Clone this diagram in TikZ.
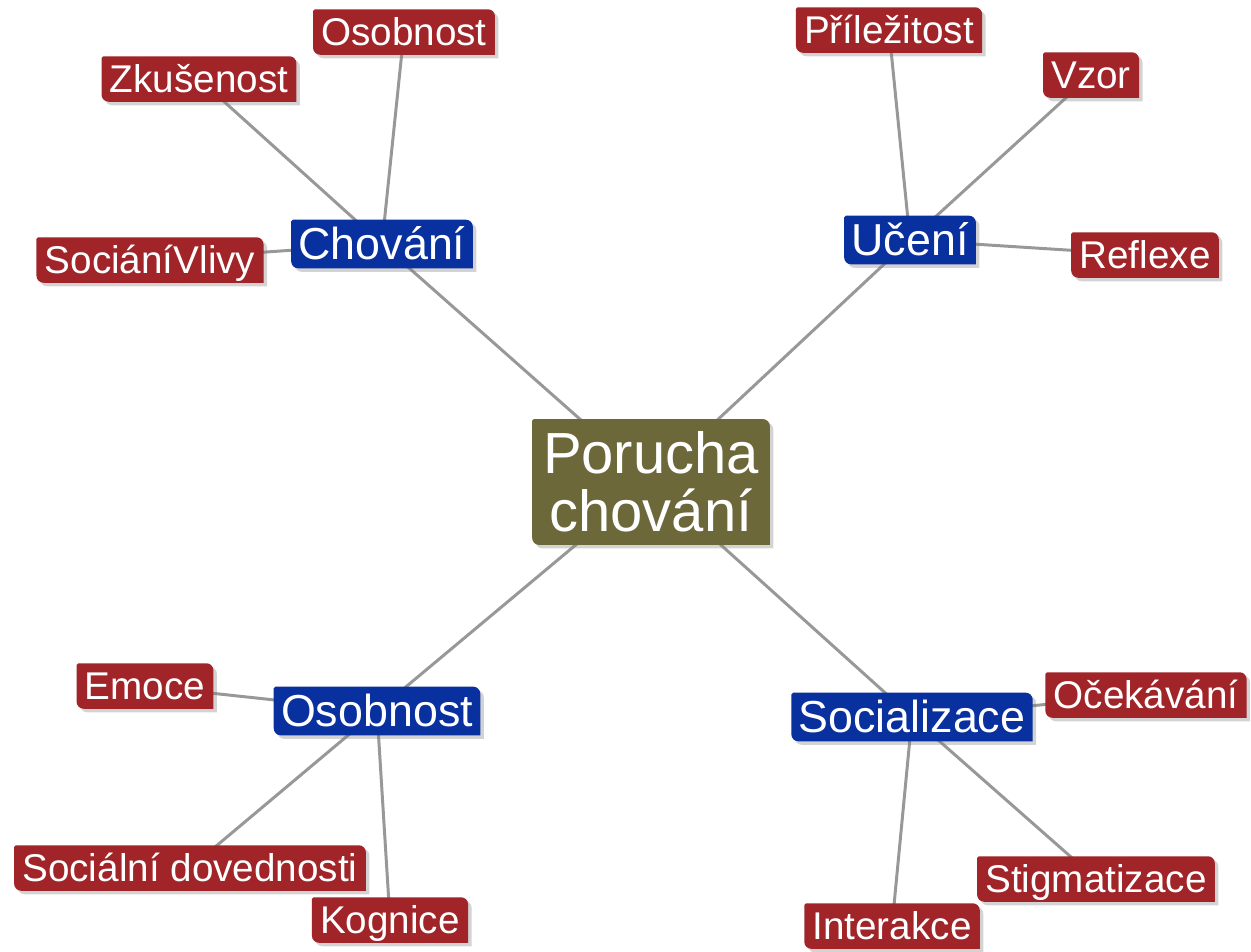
\documentclass[tikz,border=0pt]{standalone}
\usepackage{fontspec}
\setmainfont{Liberation Sans}
\usepackage{tikz}
\usetikzlibrary{shadows,backgrounds}
\definecolor{leafred}{RGB}{160,36,40}
\definecolor{topicblue}{RGB}{8,48,158}
\definecolor{rootolive}{RGB}{108,104,58}
\definecolor{edgegray}{RGB}{152,152,152}

\newcommand{\tagbox}[2]{%
  \fill[#2, drop shadow={shadow xshift=2pt,shadow yshift=-2pt,opacity=0.35}]
    ([yshift=-1pt]#1.north west) -- ([xshift=1pt]#1.north west)
    -- ([xshift=-4pt]#1.north east) arc[start angle=90,end angle=0,radius=4pt]
    -- (#1.south east) -- ([xshift=4pt]#1.south west)
    arc[start angle=270,end angle=180,radius=4pt] -- cycle;}

\begin{document}
\begin{tikzpicture}[x=0.02cm,y=-0.02cm,
    leaf/.style={text=white, font=\fontsize{22}{22}\selectfont,
      text height=18.2pt, text depth=2.5pt, inner xsep=4.5pt, inner ysep=2.4pt},
    topic/.style={text=white, font=\fontsize{25.5}{25.5}\selectfont,
      text height=20.3pt, text depth=2.4pt, inner xsep=4pt, inner ysep=2.3pt},
    root/.style={text=white, font=\fontsize{33}{33}\selectfont,
      align=center, inner xsep=6pt, inner ysep=7pt},
    link/.style={edgegray, line width=1.7pt}]
\useasboundingbox (0,0) rectangle (1251,951);

\node[root] (r) at (651,482) {Porucha\\chování};

\node[topic] (ch) at (382,244) {Chování};
\node[leaf] (ch1) at (404,32) {Osobnost};
\node[leaf] (ch2) at (199,79) {Zkušenost};
\node[leaf] (ch3) at (150,260) {SociáníVlivy};

\node[topic] (uc) at (910,240) {Učení};
\node[leaf] (uc1) at (889,30) {Příležitost};
\node[leaf] (uc2) at (1091,75) {Vzor};
\node[leaf] (uc3) at (1145,255) {Reflexe};

\node[topic] (os) at (377,711) {Osobnost};
\node[leaf] (os1) at (145,686) {Emoce};
\node[leaf] (os2) at (190,868) {Sociální dovednosti};
\node[leaf] (os3) at (390,920) {Kognice};

\node[topic] (so) at (912,717) {Socializace};
\node[leaf] (so1) at (1146,695) {Očekávání};
\node[leaf] (so2) at (1096,879) {Stigmatizace};
\node[leaf] (so3) at (892,926) {Interakce};

\begin{scope}[on background layer]
\foreach \tp in {ch,uc,os,so} {
  \draw[link] (r.center) -- (\tp.center);
  \foreach \k in {1,2,3} {
    \draw[link] (\tp.center) -- (\tp\k.center);
  }
}
\tagbox{r}{rootolive}
\foreach \tp in {ch,uc,os,so} {
  \tagbox{\tp}{topicblue}
  \foreach \k in {1,2,3} {
    \tagbox{\tp\k}{leafred}
  }
}
\end{scope}
\end{tikzpicture}
\end{document}
